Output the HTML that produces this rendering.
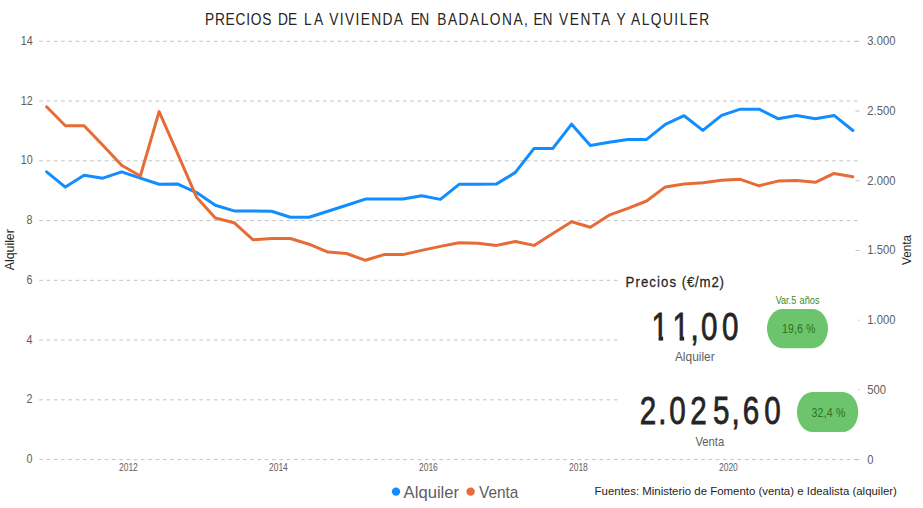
<!DOCTYPE html>
<html><head><meta charset="utf-8"><style>
html,body{margin:0;padding:0;background:#fff;}
body{width:923px;height:508px;overflow:hidden;}
svg{display:block;}
text{font-family:"Liberation Sans",sans-serif;}
.g{stroke:#c2c2c2;stroke-width:1;stroke-dasharray:3.637 3.637;}
.tk{stroke:#c2c2c2;stroke-width:1;}
.ax{font-size:12.5px;fill:#605e5c;}
.xl{font-size:10px;fill:#605e5c;}
</style></head><body>
<svg width="923" height="508" viewBox="0 0 923 508">
<rect width="923" height="508" fill="#fff"/>
<line x1="39.3" y1="459.60" x2="858" y2="459.60" class="g"/>
<line x1="39.3" y1="399.84" x2="858" y2="399.84" class="g"/>
<line x1="39.3" y1="340.09" x2="858" y2="340.09" class="g"/>
<line x1="39.3" y1="280.33" x2="858" y2="280.33" class="g"/>
<line x1="39.3" y1="220.57" x2="858" y2="220.57" class="g"/>
<line x1="39.3" y1="160.81" x2="858" y2="160.81" class="g"/>
<line x1="39.3" y1="101.06" x2="858" y2="101.06" class="g"/>
<line x1="39.3" y1="41.30" x2="858" y2="41.30" class="g"/>
<text transform="translate(32.6 463.20) scale(0.86 1)" class="ax" text-anchor="end">0</text>
<text transform="translate(32.6 403.44) scale(0.86 1)" class="ax" text-anchor="end">2</text>
<text transform="translate(32.6 343.69) scale(0.86 1)" class="ax" text-anchor="end">4</text>
<text transform="translate(32.6 283.93) scale(0.86 1)" class="ax" text-anchor="end">6</text>
<text transform="translate(32.6 224.17) scale(0.86 1)" class="ax" text-anchor="end">8</text>
<text transform="translate(32.6 164.41) scale(0.86 1)" class="ax" text-anchor="end">10</text>
<text transform="translate(32.6 104.66) scale(0.86 1)" class="ax" text-anchor="end">12</text>
<text transform="translate(32.6 44.90) scale(0.86 1)" class="ax" text-anchor="end">14</text>
<line x1="855.5" y1="459.60" x2="859.5" y2="459.60" class="tk"/>
<text transform="translate(867.3 463.60) scale(0.9 1)" class="ax">0</text>
<line x1="855.5" y1="389.88" x2="859.5" y2="389.88" class="tk"/>
<text transform="translate(867.3 393.88) scale(0.9 1)" class="ax">500</text>
<line x1="855.5" y1="320.17" x2="859.5" y2="320.17" class="tk"/>
<text transform="translate(867.3 324.17) scale(0.9 1)" class="ax">1.000</text>
<line x1="855.5" y1="250.45" x2="859.5" y2="250.45" class="tk"/>
<text transform="translate(867.3 254.45) scale(0.9 1)" class="ax">1.500</text>
<line x1="855.5" y1="180.73" x2="859.5" y2="180.73" class="tk"/>
<text transform="translate(867.3 184.73) scale(0.9 1)" class="ax">2.000</text>
<line x1="855.5" y1="111.02" x2="859.5" y2="111.02" class="tk"/>
<text transform="translate(867.3 115.02) scale(0.9 1)" class="ax">2.500</text>
<line x1="855.5" y1="41.30" x2="859.5" y2="41.30" class="tk"/>
<text transform="translate(867.3 45.30) scale(0.9 1)" class="ax">3.000</text>
<text transform="translate(128.4 470.9) scale(0.85 1)" class="xl" text-anchor="middle">2012</text>
<text transform="translate(278.4 470.9) scale(0.85 1)" class="xl" text-anchor="middle">2014</text>
<text transform="translate(428.4 470.9) scale(0.85 1)" class="xl" text-anchor="middle">2016</text>
<text transform="translate(578.4 470.9) scale(0.85 1)" class="xl" text-anchor="middle">2018</text>
<text transform="translate(728.4 470.9) scale(0.85 1)" class="xl" text-anchor="middle">2020</text>

<text transform="translate(13.7 249.7) rotate(-90)" text-anchor="middle" font-size="12" fill="#252423" textLength="41" lengthAdjust="spacingAndGlyphs">Alquiler</text>
<text transform="translate(910.8 250) rotate(-90)" text-anchor="middle" font-size="12" fill="#252423" textLength="30" lengthAdjust="spacingAndGlyphs">Venta</text>
<polyline points="46.60,171.8 65.35,187.1 84.10,175.3 102.85,178.2 121.60,171.8 140.35,178.2 159.10,184.2 177.85,184.1 196.60,192.6 215.35,205.2 234.10,210.9 252.85,210.9 271.60,211.2 290.35,217.2 309.10,217.2 327.85,211.2 346.60,205.2 365.35,199.1 384.10,199.1 402.85,199.1 421.60,195.7 440.35,199.4 459.10,184.3 477.85,184.3 496.60,183.9 515.35,172.4 534.10,148.4 552.85,148.4 571.60,124.2 590.35,145.5 609.10,142.2 627.85,139.4 646.60,139.4 665.35,124.3 684.10,115.7 702.85,130.4 721.60,115.4 740.35,109.2 759.10,109.2 777.85,118.7 796.60,115.4 815.35,118.7 834.10,115.4 852.85,130.5" fill="none" stroke="#118dff" stroke-width="3" stroke-linejoin="round" stroke-linecap="round"/>
<polyline points="46.60,106.8 65.35,125.7 84.10,125.7 102.85,145.3 121.60,165.2 140.35,176.0 159.10,111.6 177.85,154.2 196.60,197.3 215.35,218.0 234.10,222.7 252.85,239.7 271.60,238.6 290.35,238.5 309.10,244.2 327.85,252.1 346.60,253.5 365.35,260.3 384.10,254.6 402.85,254.6 421.60,250.4 440.35,246.4 459.10,242.7 477.85,243.2 496.60,245.4 515.35,241.5 534.10,245.4 552.85,233.6 571.60,221.7 590.35,227.3 609.10,215.2 627.85,208.4 646.60,201.0 665.35,186.9 684.10,184.1 702.85,182.8 721.60,180.3 740.35,179.3 759.10,185.8 777.85,181.1 796.60,180.5 815.35,182.3 834.10,173.4 852.85,176.8" fill="none" stroke="#e66c37" stroke-width="3" stroke-linejoin="round" stroke-linecap="round"/>
<!-- card -->
<rect x="618" y="262" width="240" height="193" fill="#fff"/>
<rect x="767" y="309" width="61" height="39.2" rx="15.5" ry="19.6" fill="#6cc46c"/>
<rect x="797" y="392" width="61.2" height="40.1" rx="15.5" ry="20" fill="#6cc46c"/>
<text transform="translate(0 340.0) scale(0.76 1)" x="857.24 884.87 908.55 922.43 950.00" y="0" font-size="39.0" fill="#252423" stroke="#252423" stroke-width="0.8">11,00</text>
<text transform="translate(0 424.4) scale(0.76 1)" x="841.84 866.05 880.46 908.22 938.22 962.50 977.24 1005.53" y="0" font-size="39.0" fill="#252423" stroke="#252423" stroke-width="0.8">2.025,60</text>
<text transform="translate(0 24.7) scale(0.86 1)" y="0" font-size="16" fill="#252423" ><tspan x="238.37" textLength="77.33" lengthAdjust="spacing">PRECIOS</tspan> <tspan x="323.26" textLength="22.21" lengthAdjust="spacing">DE</tspan> <tspan x="353.49" textLength="22.21" lengthAdjust="spacing">LA</tspan> <tspan x="382.79" textLength="85.81" lengthAdjust="spacing">VIVIENDA</tspan> <tspan x="477.56" textLength="21.40" lengthAdjust="spacing">EN</tspan> <tspan x="508.49" textLength="105.35" lengthAdjust="spacing">BADALONA,</tspan> <tspan x="620.23" textLength="22.09" lengthAdjust="spacing">EN</tspan> <tspan x="649.88" textLength="59.77" lengthAdjust="spacing">VENTA</tspan> <tspan x="716.74" textLength="13.49" lengthAdjust="spacing">Y</tspan> <tspan x="733.84" textLength="90.93" lengthAdjust="spacing">ALQUILER</tspan></text>
<text transform="translate(0 287.0) scale(0.86 1)" y="0" font-size="15.4" fill="#252423" stroke="#252423" stroke-width="0.25"><tspan x="727.33" textLength="58.95" lengthAdjust="spacing">Precios</tspan> <tspan x="792.67" textLength="49.19" lengthAdjust="spacing">(€/m2)</tspan></text>
<text y="303.9" font-size="10.3" fill="#3a8a2a" ><tspan x="775.70" textLength="20.50" lengthAdjust="spacingAndGlyphs">Var.5</tspan> <tspan x="799.50" textLength="20.00" lengthAdjust="spacingAndGlyphs">años</tspan></text>
<text transform="translate(0 332.7) scale(0.86 1)" x="909.30" y="0" font-size="12.2" fill="#2b7320"  textLength="38.84" lengthAdjust="spacing">19,6 %</text>
<text transform="translate(0 416.7) scale(0.86 1)" x="943.60" y="0" font-size="12.2" fill="#2b7320"  textLength="39.42" lengthAdjust="spacing">32,4 %</text>
<text x="674.90" y="361.0" font-size="12.8" fill="#605e5c"  textLength="39.80" lengthAdjust="spacingAndGlyphs">Alquiler</text>
<text x="695.40" y="445.9" font-size="12.8" fill="#605e5c"  textLength="28.80" lengthAdjust="spacingAndGlyphs">Venta</text>
<text x="403.60" y="497.9" font-size="16.2" fill="#605e5c"  textLength="55.50" lengthAdjust="spacingAndGlyphs">Alquiler</text>
<text x="479.00" y="497.9" font-size="16.2" fill="#605e5c"  textLength="39.40" lengthAdjust="spacingAndGlyphs">Venta</text>
<text x="594.60" y="494.6" font-size="11.8" fill="#252423"  textLength="302.30" lengthAdjust="spacingAndGlyphs">Fuentes: Ministerio de Fomento (venta) e Idealista (alquiler)</text>
<g fill="#fff"><rect x="653" y="335.9" width="5.6" height="5.5"/><rect x="663.15" y="335.9" width="6.2" height="5.5"/><rect x="674" y="335.9" width="5.6" height="5.5"/><rect x="684.15" y="335.9" width="6.2" height="5.5"/></g>
<!-- legend -->
<circle cx="396" cy="491.6" r="4.2" fill="#118dff"/>
<circle cx="470.6" cy="491.6" r="4.2" fill="#e66c37"/>
</svg>
</body></html>
